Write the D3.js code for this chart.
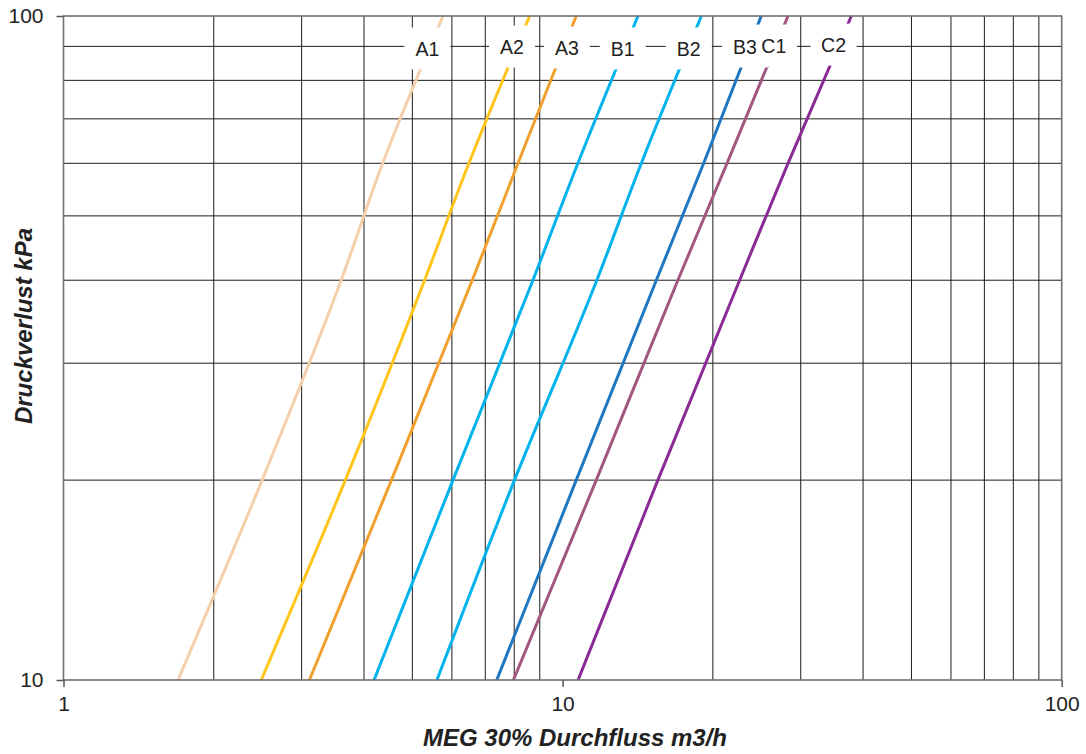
<!DOCTYPE html>
<html><head><meta charset="utf-8">
<script src="https://cdn.jsdelivr.net/npm/d3@7"></script>
<style>
body{margin:0;background:#fff;}
text{font-family:"Liberation Sans",Arial,Helvetica,sans-serif;fill:#222;}
</style>
</head><body>
<svg id="chart" width="1086" height="754"></svg>
<script>
// ---- data ----
const seriesNames = ["A1","A2","A3","B1","B2","B3","C1","C2"];
const seriesColors = ["#F5CFAA","#FFC51A","#F0A02E","#00B3EC","#00B3EC","#1E77C0","#A3567F","#8A2A95"];
const pressures = [10, 20, 40, 60, 100]; // kPa
const flowA1 = [1.696, 2.50, 3.60, 4.36, 5.76];
const flowA2 = [2.49, 3.67, 5.29, 6.49, 8.59];
const flowA3 = [3.11, 4.54, 6.59, 8.14, 10.65];
const flowB1 = [4.19, 6.03, 8.72, 10.73, 14.16];
const flowB2 = [5.60, 8.01, 11.71, 14.38, 18.97];
const flowB3 = [7.38, 10.65, 15.41, 19.17, 25.0];
const flowC1 = [7.97, 11.68, 17.02, 21.35, 28.29];
const flowC2 = [10.74, 15.52, 22.63, 28.29, 37.9];
const seriesFlows = [flowA1, flowA2, flowA3, flowB1, flowB2, flowB3, flowC1, flowC2];
const labelFlow = [5.36, 7.92, 10.2, 13.2, 17.9, 23.2, 26.5, 34.9];
const labelPressure = [89.2, 89.8, 89.5, 89.2, 89.2, 89.8, 90.1, 90.4];
const xTickValues = [1, 10, 100];
const xTickLabels = ["1", "10", "100"];
const yTickValues = [10, 100];
const yTickLabels = ["10", "100"];
const xGridValues = [2,3,4,5,6,7,8,9,20,30,40,50,60,70,80,90];
const yGridValues = [20,30,40,50,60,70,80,90];
const xTitle = "MEG 30% Durchfluss m3/h";
const yTitle = "Druckverlust kPa";

// ---- layout ----
const L = 63.5, R = 1061.7, T = 16, B = 680;
const svg = d3.select("#chart");
const x = d3.scaleLog().domain([1, 100]).range([L, R]);
const y = d3.scaleLog().domain([10, 100]).range([B, T]);

// gridlines
const grid = svg.append("g").attr("stroke", "#1c1c1c").attr("stroke-width", 1);
grid.selectAll("line.v").data(xGridValues).join("line")
  .attr("x1", d => x(d)).attr("x2", d => x(d)).attr("y1", T).attr("y2", B);
grid.selectAll("line.h").data(yGridValues).join("line")
  .attr("x1", L).attr("x2", R).attr("y1", d => y(d)).attr("y2", d => y(d));

// curves
svg.append("clipPath").attr("id", "clip").append("rect")
  .attr("x", L).attr("y", T).attr("width", R - L).attr("height", B - T);
const line = d3.line().x(d => x(d[0])).y(d => y(d[1])).curve(d3.curveMonotoneY);
const curves = svg.append("g").attr("clip-path", "url(#clip)");
seriesNames.forEach((name, i) => {
  const pts = seriesFlows[i].map((f, j) => [f, pressures[j]]);
  curves.append("path").datum(pts)
    .attr("d", line).attr("fill", "none")
    .attr("stroke", seriesColors[i]).attr("stroke-width", 3);
});

// frame
svg.append("rect").attr("x", L).attr("y", T).attr("width", R - L).attr("height", B - T)
  .attr("fill", "none").attr("stroke", "#707070").attr("stroke-width", 1.6);

// labels with white boxes (all boxes first, then all texts)
const labelData = seriesNames.map((name, i) => ({name, cx: x(labelFlow[i]), cy: y(labelPressure[i])}));
const labels = svg.append("g");
labels.selectAll("rect").data(labelData).join("rect")
  .attr("x", d => d.cx - 23).attr("y", d => d.cy - 21.5).attr("width", 46).attr("height", 42)
  .attr("fill", "#fff");
labels.selectAll("text").data(labelData).join("text")
  .attr("x", d => d.cx).attr("y", d => d.cy).attr("dy", "0.36em")
  .attr("text-anchor", "middle").attr("font-size", 19.5).text(d => d.name);

// axes
const xAxis = d3.axisBottom(x).tickValues(xTickValues).tickFormat((d, i) => xTickLabels[i]).tickSizeOuter(0).tickSize(7).tickPadding(9);
const gx = svg.append("g").attr("transform", `translate(0,${B})`).call(xAxis);
gx.select(".domain").remove();
gx.selectAll(".tick line").attr("stroke", "#555").attr("stroke-width", 1.5);
gx.selectAll(".tick text").attr("font-size", 21).attr("font-family", "Liberation Sans, Arial, sans-serif").attr("fill", "#222");

const yAxis = d3.axisLeft(y).tickValues(yTickValues).tickFormat((d, i) => yTickLabels[i]).tickSizeOuter(0).tickSize(7).tickPadding(13);
const gy = svg.append("g").attr("transform", `translate(${L},0)`).call(yAxis);
gy.select(".domain").remove();
gy.selectAll(".tick line").attr("stroke", "#555").attr("stroke-width", 1.5);
gy.selectAll(".tick text").attr("font-size", 21).attr("font-family", "Liberation Sans, Arial, sans-serif").attr("fill", "#222");

// titles
svg.append("text").attr("x", 575).attr("y", 746).attr("text-anchor", "middle")
  .attr("font-size", 24).attr("font-weight", "bold").attr("font-style", "italic").text(xTitle);
svg.append("text").attr("transform", "translate(31.5,326) rotate(-90)").attr("text-anchor", "middle")
  .attr("font-size", 24).attr("font-weight", "bold").attr("font-style", "italic").text(yTitle);
</script>
</body></html>
